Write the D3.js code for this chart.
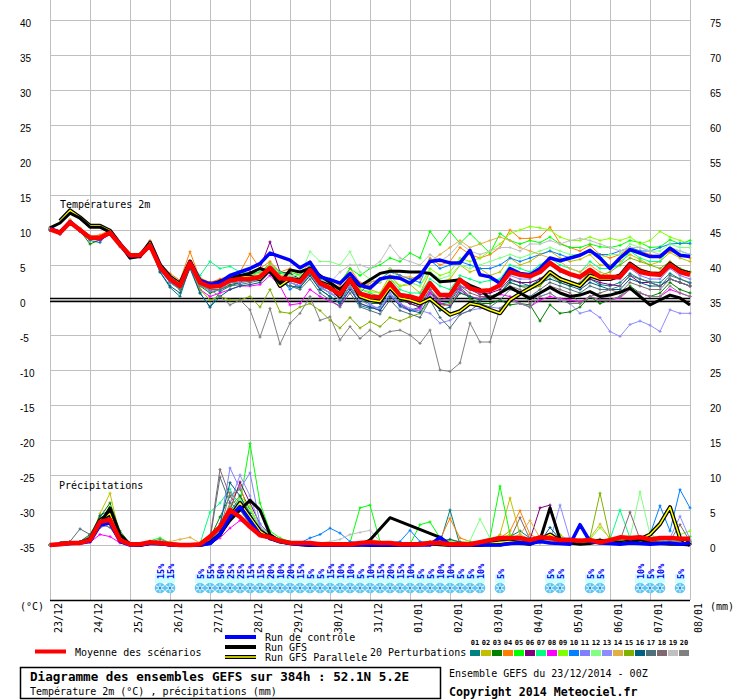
<!DOCTYPE html>
<html>
<head>
<meta charset="utf-8">
<script src="https://cdn.jsdelivr.net/npm/d3@7"></script>
<style>
body { margin: 0; background: #fff; }
svg text { font-family: "DejaVu Sans Mono", monospace; }
</style>
</head>
<body>
<div id="chart"></div>
<script>
// ---- donnees (pas de 6h, 65 echeances de 0 a 384h) ----
var days = ["23/12","24/12","25/12","26/12","27/12","28/12","29/12","30/12","31/12",
            "01/01","02/01","03/01","04/01","05/01","06/01","07/01","08/01"];
var tempTicks = [40,35,30,25,20,15,10,5,0,-5,-10,-15,-20,-25,-30,-35];
var precipTicks = [75,70,65,60,55,50,45,40,35,30,25,20,15,10,5,0];

var memberNames = ["01","02","03","04","05","06","07","08","09","10",
                   "11","12","13","14","15","16","17","18","19","20"];
var memberColors = ["#008080","#c0c000","#008000","#ff8000","#00ff00","#800080","#00ff80","#ff00ff","#80ff00","#0080ff",
                    "#8080ff","#80ff80","#8c8cff","#e0b040","#80b000","#006080","#507078","#806870","#c0c0c0","#808080"];

// temperature 2m (degC)
var tempMean = [10.1,9.6,11.1,10.0,8.9,8.9,9.6,7.9,6.4,6.4, 7.8,4.7,3.0,2.0,5.3,2.5,1.9,2.0,2.8,3.0,
  3.0,3.3,4.6,3.1,3.0,2.6,4.3,2.4,1.7,0.8, 2.9,0.9,0.5,0.4,2.4,0.7,0.5,0.1,2.4,0.7,
  0.7,2.9,1.7,1.3,1.4,2.1,4.0,3.6,3.4,4.0, 5.3,4.3,3.7,3.3,4.3,3.3,3.3,3.3,5.0,4.0, 3.7,3.6,5.0,4.0,3.6];
var tempControl = [10.2,9.7,11.2,10.0,8.9,8.8,9.6,7.9,6.3,6.4, 7.9,4.8,3.1,2.0,5.4,2.8,2.2,2.5,3.5,4.0,
  4.5,5.2,6.7,6.2,5.7,4.6,5.4,3.3,2.9,2.4, 3.8,2.1,1.7,3.0,3.3,3.1,2.4,3.5,5.5,5.7,
  5.3,5.3,7.1,3.6,3.3,2.4,4.5,3.8,3.6,4.5, 6.0,5.6,6.0,6.4,7.1,6.0,4.5,6.0,7.2,6.7, 6.2,6.2,7.4,6.4,6.2];
var tempGfs = [10.3,11.0,12.4,11.7,10.4,10.4,9.7,7.9,6.0,6.2, 8.0,4.8,3.0,2.0,5.5,2.5,2.0,2.5,3.0,3.5,
  3.8,4.5,4.0,2.4,4.3,4.0,4.5,3.5,2.5,1.5, 3.0,2.0,2.9,3.8,4.1,4.1,4.0,4.0,3.8,2.6,
  2.7,2.9,2.1,1.5,0.2,1.0,1.8,1.0,0.2,1.0, 1.8,1.0,0.5,0.7,1.2,0.5,0.7,1.1,1.7,0.5, -0.7,0.0,0.7,0.3,-0.7];
var tempPara = [null,11.3,12.8,11.8,10.6,10.6,9.9,8.0,6.3,6.3, 8.2,5.0,3.3,2.3,5.5,2.6,2.0,2.6,3.2,3.4,
  3.3,3.0,4.5,2.0,3.0,2.8,4.5,2.5,2.0,0.5, 3.0,0.5,0.0,-0.2,1.8,0.3,0.0,-0.5,0.2,-1.0,
  -2.1,-1.6,-0.5,-0.8,-1.4,-1.9,0.0,0.9,1.7,2.5, 4.0,3.0,2.5,2.0,3.5,3.0,3.0,3.5,5.2,4.2, 3.8,3.7,5.2,4.2,3.8];

var tempP01 = [10.3,9.4,11.3,9.8,8.5,8.2,9.9,7.6,6.0,6.5, 8.0,4.0,1.8,0.5,4.8,1.0,-1.0,1.2,2.0,2.5, 3.5,2.8,4.0,2.5,2.0,1.8,3.5,1.5,0.5,-0.5, 2.0,-0.8,-1.2,-1.0,1.5,-0.5,-1.5,-1.0,1.0,-0.6, -0.3,1.8,0.5,0.0,0.2,1.0,2.8,2.5,2.0,3.0, 4.0,3.2,2.5,2.0,3.0,2.2,2.0,2.5,3.8,3.0, 2.6,2.5,3.8,3.0,2.4];
var tempP02 = [10.0,9.8,11.0,10.3,9.2,9.0,9.4,8.0,6.5,6.3, 7.6,5.2,3.5,2.5,5.5,3.2,2.5,2.5,3.0,3.5, 3.2,3.6,5.0,3.5,3.8,3.0,4.8,3.0,2.5,1.5, 3.5,1.8,1.5,1.0,3.5,2.0,2.2,1.0,4.0,2.5, 3.0,5.0,4.0,4.5,3.5,4.0,6.0,5.0,5.5,6.5, 7.0,6.0,5.5,5.8,6.5,5.0,5.0,5.5,6.5,5.8, 5.0,5.5,6.8,6.0,5.5];
var tempP03 = [10.2,9.5,11.2,9.9,8.0,8.6,9.7,7.8,6.3,6.2, 7.9,4.5,2.5,1.5,5.0,2.0,1.0,1.5,2.2,2.5, 2.7,3.0,4.2,2.8,2.5,2.0,3.8,1.8,1.0,0.0, 2.0,0.0,-0.5,-0.5,1.5,0.0,-0.5,-1.0,1.5,-0.5, -0.8,1.5,0.2,-0.5,-0.5,0.0,-0.7,-0.5,-0.7,-3.0, -0.7,-1.9,-1.7,-1.0,0.5,-0.5,0.0,0.5,2.0,1.0, 0.5,1.0,2.5,1.5,1.0];
var tempP04 = [10.4,9.8,11.5,10.2,9.0,9.3,10.0,8.2,6.6,6.6, 8.5,5.2,3.8,2.8,6.9,3.0,2.5,3.0,3.5,4.0, 6.6,4.5,5.5,4.0,4.5,3.5,5.5,3.5,3.0,2.0, 4.5,2.5,2.0,2.5,4.5,3.5,3.0,3.5,6.0,5.0, 5.5,7.5,6.5,6.0,6.5,7.5,10.0,8.8,8.8,9.0, 10.4,8.1,7.5,7.0,7.8,6.5,6.0,6.5,7.5,7.0, 6.5,6.0,7.0,6.5,6.0];
var tempP05 = [10.0,9.5,11.0,10.1,9.1,9.0,9.5,8.0,6.5,6.6, 7.7,4.8,3.3,2.3,5.5,2.8,2.2,2.5,3.4,3.5, 3.6,4.0,5.2,3.8,4.0,3.5,5.0,3.5,3.0,2.5, 4.5,3.5,4.5,5.0,6.0,5.5,6.7,6.0,9.8,7.9, 9.8,8.1,9.5,8.1,6.7,9.5,8.5,8.0,8.5,8.2, 9.0,8.0,7.5,7.5,8.0,7.6,7.5,7.8,8.5,8.2, 7.5,7.6,8.6,8.0,8.5];
var tempP06 = [10.1,9.7,11.0,10.0,8.8,8.8,9.5,7.8,6.4,6.4, 7.8,4.6,2.8,1.8,5.2,3.0,2.5,2.8,3.2,3.5, 4.0,4.5,8.3,4.0,3.8,3.0,4.5,2.0,1.5,0.5, 2.5,0.5,0.0,-0.5,1.5,0.2,-0.5,-1.0,1.0,0.0, 0.5,2.0,1.5,0.8,1.0,1.5,3.0,2.5,2.5,3.0, 4.0,3.0,2.5,2.0,3.0,2.5,2.2,2.0,3.5,2.5, 2.5,2.0,3.0,2.5,2.0];
var tempP07 = [10.2,9.6,11.2,10.1,9.0,9.0,9.8,8.0,6.5,6.5, 7.8,4.9,3.2,2.2,5.5,3.5,5.5,4.5,4.8,4.0, 3.8,4.0,5.0,4.0,3.5,3.0,5.0,3.0,2.0,1.0, 3.0,1.5,1.0,0.5,3.0,1.5,1.0,1.0,3.0,2.0, 1.5,3.5,3.0,2.5,2.8,3.0,5.0,4.5,4.0,5.0, 6.0,5.0,4.5,4.0,5.5,4.5,4.5,5.0,7.0,6.0, 5.5,5.5,7.5,7.0,6.5];
var tempP08 = [10.0,9.4,11.0,9.8,8.7,8.5,9.4,7.7,6.2,6.1, 7.5,4.5,2.7,1.7,5.0,1.5,0.5,1.0,1.5,2.0, 2.0,2.2,3.5,2.0,-0.7,-0.5,1.5,0.5,-0.2,-0.8, 1.5,-0.5,-1.0,-1.5,0.5,-0.5,-1.5,-1.2,1.0,-0.5, -0.8,1.5,0.5,0.2,0.5,0.8,0.5,-0.5,-1.0,0.0, 0.5,0.2,0.0,-0.3,0.5,0.0,0.0,0.3,1.5,1.0, 0.5,0.5,1.5,1.0,0.5];
var tempP09 = [10.1,9.6,11.1,10.0,8.9,9.0,9.6,7.9,6.4,6.3, 7.8,4.6,2.9,1.9,5.3,2.5,1.8,2.0,2.7,3.0, 3.0,3.2,4.5,3.0,3.0,2.5,4.2,2.5,2.0,1.2, 3.5,1.5,1.2,1.0,3.0,2.0,2.5,2.0,4.5,3.5, 4.0,6.0,5.5,6.0,7.0,8.0,9.5,10.0,10.5,10.3, 10.0,9.0,8.5,8.5,9.0,8.5,8.8,8.5,9.0,8.0, 8.5,9.8,9.0,8.5,8.0];
var tempP10 = [10.2,9.7,11.2,10.0,8.8,8.9,9.6,7.9,6.3,6.4, 7.8,4.7,3.0,2.0,5.2,2.5,2.0,2.2,3.0,3.2, 3.3,3.5,4.8,3.2,1.5,2.5,4.0,2.0,1.5,0.5, 2.5,1.0,2.5,3.0,4.0,3.5,3.0,2.5,5.7,4.5, 5.0,5.5,5.0,4.5,4.5,5.0,6.0,5.5,6.0,6.5, 7.0,6.5,6.0,6.5,7.0,6.5,6.5,7.0,7.5,7.0, 7.0,7.5,8.0,8.1,8.1];
var tempP11 = [10.0,9.5,11.0,9.9,8.9,8.8,9.5,7.8,6.2,6.3, 7.6,4.2,2.5,1.5,5.0,2.2,1.2,1.5,2.5,2.5, 2.8,3.0,4.2,2.5,2.5,2.0,5.5,2.0,1.0,0.5, 2.5,0.5,-0.5,-1.5,1.0,-1.0,-1.5,-1.5,1.5,0.0, 0.0,2.0,1.5,1.0,1.5,2.0,3.5,3.0,3.0,4.0, 5.0,4.0,3.5,3.0,4.0,3.0,3.0,3.0,4.5,3.5, 3.0,3.0,4.5,3.5,3.0];
var tempP12 = [10.1,9.6,11.2,10.1,9.0,9.0,9.7,8.0,6.5,6.5, 7.9,4.8,3.1,2.1,5.4,2.6,2.0,2.2,3.0,3.2, 3.3,3.6,4.9,3.5,3.5,3.5,6.9,5.5,5.5,5.0, 6.9,4.0,3.0,2.5,4.5,3.0,2.5,2.0,4.0,3.0, 3.5,5.0,4.5,5.0,5.5,6.0,6.5,6.0,6.5,7.0, 7.5,7.0,6.5,6.5,7.0,6.0,6.5,6.5,8.0,7.5, 7.0,7.0,8.0,7.5,7.5];
var tempP13 = [10.0,9.6,11.0,10.0,8.8,8.8,9.5,7.8,6.3,6.3, 7.7,4.6,2.9,1.9,5.1,2.4,1.8,1.8,2.6,2.8, 2.8,3.0,4.3,2.8,2.5,2.0,3.8,1.8,1.0,0.0, 2.0,0.0,-0.8,-1.2,1.0,-0.5,-1.2,-1.5,-1.9,-3.3, -2.9,-2.0,-1.5,-1.2,-1.0,-1.2,0.0,-0.5,-1.0,0.5, 1.0,0.0,-0.5,-1.9,-1.5,-2.5,-4.5,-5.2,-3.5,-3.0, -3.6,-4.5,-1.4,-1.9,-1.9];
var tempP14 = [10.3,9.9,11.4,10.2,9.1,9.1,9.8,8.1,6.6,6.6, 8.2,5.0,3.3,2.3,5.6,2.8,2.2,2.4,3.2,3.4, 3.5,3.8,5.1,3.5,3.2,2.8,4.5,2.6,2.0,1.5, 3.5,2.0,2.5,3.0,3.5,3.3,3.3,3.0,5.5,6.5, 7.5,8.5,7.5,8.0,8.5,9.0,8.5,7.5,7.0,6.5, 6.0,5.5,4.5,4.0,5.0,4.0,3.5,3.5,5.0,4.5, 4.0,4.0,5.0,4.5,4.0];
var tempP15 = [10.1,9.5,11.1,10.0,8.8,8.9,9.6,7.9,6.4,6.4, 7.8,4.6,2.8,1.5,5.0,1.5,0.0,0.5,0.0,0.0, 0.5,-1.0,1.5,-1.7,-1.9,-1.0,-0.5,-1.5,-2.9,-4.0, -2.5,-4.0,-3.1,-3.8,-2.5,-3.0,-2.4,-1.9,0.0,-1.0, -0.5,1.0,0.5,0.0,0.5,1.0,2.5,2.0,1.5,2.0, 3.5,2.5,2.0,2.5,4.0,3.5,4.0,5.0,6.0,5.5, 5.0,4.5,5.5,4.5,4.0];
var tempP16 = [10.2,9.6,11.0,10.0,8.7,8.6,9.5,7.8,6.2,6.2, 7.6,4.0,2.0,1.0,4.5,1.0,-1.0,0.5,1.5,2.0, 2.2,2.5,4.0,2.5,2.0,1.8,3.5,1.5,0.5,-0.5, 1.5,-0.5,-1.0,-1.5,0.5,-0.8,-1.5,-1.8,0.5,-1.5, -1.0,1.0,0.5,0.0,0.5,1.0,2.5,2.0,2.0,2.5, 3.0,2.5,2.0,1.5,2.5,2.0,1.5,1.5,3.0,2.5, 2.0,2.0,3.0,2.5,2.0];
var tempP17 = [10.0,9.5,11.0,9.9,8.8,8.8,9.5,7.8,6.3,6.3, 7.7,4.4,2.6,1.6,5.0,2.2,1.5,1.5,2.0,2.2, 2.5,2.8,4.0,2.5,2.0,1.5,3.0,1.0,0.0,-1.0, 1.0,-1.0,-1.5,-2.0,0.0,-1.5,-2.0,-2.5,0.0,-2.5, -4.0,-2.1,-1.5,-0.5,-1.0,0.0,1.5,1.0,0.5,1.5, 2.5,2.0,1.5,1.0,2.0,1.5,1.5,2.0,3.5,3.0, 2.5,2.0,3.5,3.0,2.5];
var tempP18 = [10.1,9.6,11.0,10.0,8.9,8.9,9.6,7.9,6.4,6.4, 7.8,4.7,3.0,2.0,5.2,2.5,1.8,2.0,2.8,3.0, 3.0,3.2,4.5,3.0,2.8,2.5,4.0,2.2,1.5,0.5, 2.5,0.5,0.0,0.0,2.0,0.5,0.0,-0.5,1.5,0.0, 0.0,2.0,1.0,0.5,0.5,1.0,2.0,1.5,-0.5,1.0, 2.0,1.5,1.0,-0.5,0.5,1.0,1.5,1.0,2.5,2.0, 1.5,1.5,3.0,2.5,2.0];
var tempP19 = [10.2,9.7,11.2,10.1,9.0,9.0,9.7,8.0,6.5,6.5, 7.9,4.8,3.1,2.1,5.4,2.6,2.0,2.2,3.0,3.2, 3.2,3.5,4.8,3.3,3.2,2.8,4.5,2.8,2.5,4.0, 5.0,5.0,4.5,5.5,7.8,6.0,5.5,5.0,6.5,5.5, 6.5,8.1,7.0,6.5,7.0,7.5,7.5,7.0,8.0,8.0, 8.5,8.0,8.5,8.8,8.5,8.0,7.5,7.0,7.5,7.5, 7.0,6.5,7.5,7.0,6.5];
var tempP20 = [10.0,9.4,10.9,9.9,8.7,8.7,9.4,7.8,6.3,6.2, 7.6,4.5,2.8,1.8,5.0,2.0,1.5,0.5,-0.7,0.0, -1.4,-5.3,-1.2,-6.3,-3.3,-1.9,0.5,-2.9,-2.4,-5.7, -3.8,-5.5,-4.3,-5.2,-4.5,-4.3,-5.0,-6.2,-4.3,-10.0, -10.2,-9.0,-3.3,-6.0,-6.0,-1.2,0.0,-0.5,-1.0,0.5, 1.0,0.0,-0.5,-0.5,0.5,0.0,0.0,0.5,1.5,1.0, 0.5,0.5,2.0,1.0,0.5];

// precipitations (mm)
var precMean = [0,0.1,0.3,0.3,0.7,3.3,3.6,0.7,0.1,0.1, 0.4,0.3,0.1,0,0,0.1,1.2,2.6,5.0,4.0,
  2.6,1.4,1.1,0.6,0.3,0.3,0.3,0.1,0.1,0.1, 0.1,0.3,0.4,0.3,0.3,0.1,0.1,0.1,0.3,0.3,
  0.1,0.1,0.1,0.4,0.7,1.0,1.0,1.0,0.7,1.1, 1.0,0.7,0.7,0.6,0.7,0.4,0.7,1.1,1.0,1.1, 0.8,1.0,1.0,0.9,0.9];
var precControl = [0,0.1,0.2,0.3,0.5,2.8,3.2,0.5,0,0, 0.2,0.2,0,0,0,0,
  0.2,1.5,4.0,5.5,3.5,1.5,1.0,0.5,0.2,0.1,0,
  0,0,0,0,0,0,0,0,0,0, 0,0,1.1,0,0,0,0,0,0,0.2, 0.3,0.2,0.5,0.3,0.2,0.1,2.9,0.5,0.3,0.2, 0.1,0.3,0.2,0.1,0.2,0.3,0.1,0.3];
var precGfs = [0,0.1,0.2,0.3,0.8,3.0,5.3,1.5,0.1,0, 0.2,0.2,0,0,0,0,
  0.3,1.5,3.5,5.0,6.4,5.0,1.5,0.5,0.2,0.1,0,
  0,0,0,0,0,0.7,null,3.9,null,null, null,null,1.1,0,0,0,0,0,0,0.2, 0.3,0.1,0.7,5.3,0.8,0.3,0.1,0.2,0.5,0.3, 0.2,0.4,0.8,0.3,0.2,0.1,0.1,0];
var precPara = [null,0.2,0.3,0.3,0.8,3.5,4.5,1.0,0.1,0, 0.3,0.2,0.1,0,0,0,
  0.3,1.5,4.0,6.0,4.0,2.0,1.0,0.5,0.3,0.1,0,
  0,0,0,0.1,0.1,0,0,0,0,0, 0.1,0.2,0.1,0,0,0,0,0.2,0.4,0.5, 0.3,0.2,0.8,1.5,0.6,0.4,0.3,0.5,0.6,0.4, 0.3,0.5,0.8,1.5,3.0,5.4,1.0,0];

var precP01 = [0,0.2,0.3,0.4,1.0,3.5,4.0,0.8,0.1,0, 0.5,0.3,0.1,0,0,0,
  0.5,2.0,5.0,6.0,3.5,1.5,1.0,0.5,0.2,0.2,0.1,
  0.1,0,0,0.2,0.3,0.5,0.3,0.2,0.1,0, 0.2,0.5,0.3,5.0,0,0,0.3,0.5,0.8,1.2, 2.0,1.0,0.5,0.8,0.5,0.3,0.5,0.2,0.4,0.5, 0.3,0.6,0.4,0.5,0.3,0.4,0.2,0.3];
var precP02 = [0,0.1,0.3,0.2,0.8,4.5,7.4,1.2,0.1,0, 0.3,0.4,0.2,0,0,0,
  0.3,1.5,4.0,5.5,4.5,2.0,1.5,0.8,0.5,0.3,0.2,
  0,0,0.2,0.1,0.3,0.8,0.5,0.3,0.1,0, 0.3,0.2,0.5,0.8,0.3,0.2,0.1,0.5,1.5,6.7, 1.5,0.8,0.5,0.5,1.5,0.5,0.3,0.5,0.8,0.4, 0.5,0.3,1.0,0.6,0.4,0.3,0.5,0.2];
var precP03 = [0,0.2,0.4,0.5,1.5,4.0,6.0,2.0,0.2,0, 0.4,0.3,0.1,0,0,0,
  1.0,4.0,7.0,8.0,5.0,2.5,1.5,0.5,0.3,0.2,0.1,
  0.1,0.2,0,0,0.3,0.2,0.1,0.1,0,0, 0.2,0.3,0.2,0.1,0,0,0.2,0.3,0.5,0.8, 1.0,0.8,0.5,0.4,0.6,0.3,0.2,0.4,0.5,0.3, 0.2,0.5,0.3,0.4,0.2,0.3,0.2,0.1];
var precP04 = [0,0.1,0.3,0.3,0.6,3.0,3.5,0.6,0.1,0, 0.3,0.2,0.1,0,0,0,
  0.5,2.5,6.0,8.5,4.0,2.0,1.0,0.8,0.3,0.2,0.1,
  0,0,0.1,0.2,0.3,0.5,0.3,0.2,0,0.1, 0.3,0.5,0.8,3.8,1.0,0.5,0.3,0.5,1.0,2.0, 4.9,1.5,0.8,0.5,0.3,0.5,0.8,0.5,0.3,1.0, 0.5,0.3,0.5,1.0,0.8,0.5,0.3,0.2];
var precP05 = [0,0.2,0.3,0.4,0.8,3.0,3.0,0.5,0.1,0.1, 0.6,1.0,0.3,0,0,0,
  0.3,1.5,3.5,6.0,14.5,6.0,2.0,1.0,0.5,0.2,0.1,
  0.1,0.1,0.2,0.3,5.3,5.7,0.5,0.3,0.2,0.1, 2.9,3.3,1.0,0.5,0.3,0.2,0.5,1.0,8.4,1.5, 0.8,0.5,1.0,0.8,0.5,0.3,0.6,1.0,0.5,0.8, 0.5,0.3,0.8,1.5,0.8,0.5,0.6,1.2];
var precP06 = [0,0.1,0.2,0.3,0.5,2.5,3.0,0.5,0,0, 0.2,0.3,0.1,0,0,0,
  0.2,1.5,5.0,9.0,6.0,3.0,1.5,0.8,0.4,0.3,0.2,
  0,0.1,0.1,0.2,0.2,0.1,0.1,0,0,0, 0.1,0.2,0.3,0.2,0.1,0,0.2,0.3,0.5,0.8, 1.0,0.8,5.3,5.7,1.0,0.5,0.3,0.5,0.8,0.3, 0.5,0.6,0.3,0.2,0.5,0.3,0.2,0.1];
var precP07 = [0,0.1,0.2,0.2,0.6,2.8,3.2,0.8,0.1,0, 0.3,0.2,0.1,0,0,0.2,
  4.7,6.0,8.0,5.0,3.0,1.5,1.0,0.5,0.3,0.2,0.1,
  0.1,0,0.1,0.2,0.3,0.2,0.1,0.1,0,0, 0.2,0.3,0.2,0.1,0.1,0,0.2,0.4,0.6,0.8, 0.5,0.3,0.5,0.8,0.6,0.4,0.5,0.3,0.6,0.8, 5.0,1.0,0.5,0.3,0.5,0.6,0.4,0.3];
var precP08 = [0,0.1,0.2,0.2,0.4,1.5,1.2,0.3,0,0, 0.2,0.1,0,0,0,0,
  0.2,1.0,2.4,3.5,2.5,1.5,0.8,0.5,0.2,0.1,0.1,
  0,0,0.1,0.1,0.2,0.1,0.1,0,0,0, 0.1,0.1,0.2,0.1,0,0,0.1,0.3,0.5,0.8, 1.0,0.6,0.4,0.5,0.3,0.2,0.4,0.6,0.3,0.2, 0.4,0.5,0.3,0.2,0.3,0.4,0.2,0.1];
var precP09 = [0,0.2,0.3,0.3,0.9,3.5,5.5,1.0,0.1,0, 0.4,0.3,0.2,0,0,0,
  0.5,2.0,4.5,7.0,5.5,2.5,1.5,0.8,0.5,0.3,0.2,
  0.1,0.1,0.2,0.2,0.3,0.5,0.3,0.2,0.1,0, 0.2,0.3,0.5,0.3,0.2,0.1,0.3,0.5,1.0,1.5, 0.8,0.5,0.6,0.8,1.2,0.6,0.4,0.8,2.5,1.0, 0.6,0.5,0.8,1.0,0.6,0.5,1.5,2.0];
var precP10 = [0,0.1,0.3,0.3,0.7,3.0,3.5,0.7,0.1,0, 0.3,0.3,0.1,0,0,0,
  0.3,2.0,5.0,6.5,4.0,2.0,1.2,0.8,0.4,0.3,1.0,
  1.5,2.4,1.7,0.5,0.3,0.3,0.2,0.3,0.5,2.1, 0.5,0.3,0.2,0.1,0,0,0.2,0.3,0.5,0.8, 0.6,0.4,0.3,0.5,0.4,0.3,0.5,0.3,0.4,0.6, 0.5,0.4,0.8,1.5,5.6,2.0,7.9,5.3];
var precP11 = [0,0.1,0.2,0.3,0.6,2.5,3.0,0.8,0.1,0, 0.3,0.2,0.1,0,0,0,
  0.3,2.5,11.0,8.0,10.3,3.0,1.5,0.8,0.4,0.2,0.1,
  0,0.1,0.1,0.2,0.3,0.2,0.1,0.1,0,0, 0.2,0.3,0.2,0.1,0,0,0.2,0.4,0.6,0.8, 0.5,0.4,0.5,0.8,1.0,1.0,0.5,0.4,0.3,0.5, 0.6,0.4,0.5,0.3,0.8,0.5,0.4,0.3];
var precP12 = [0,0.2,0.3,0.3,0.8,3.2,3.8,0.9,0.1,0, 0.5,0.4,0.1,0,0,0,
  0.4,1.8,4.5,6.5,5.0,2.5,1.5,0.8,0.4,0.2,0.1,
  0.1,0,0.1,0.2,0.2,0.3,0.2,0.1,0,0, 0.1,0.2,0.3,0.5,0.4,0.6,3.7,1.0,0.6,0.5, 0.8,0.6,0.4,0.6,0.5,0.4,0.3,0.6,0.8,0.5, 0.6,1.0,7.6,1.5,0.8,0.5,0.6,0.4];
var precP13 = [0,0.1,0.3,0.3,0.7,2.8,3.0,0.6,0.1,0, 0.3,0.2,0.1,0,0,0,
  0.4,2.0,6.0,10.0,7.0,2.5,1.2,0.6,0.3,0.2,0.1,
  0,0,0.1,0.1,0.2,0.2,0.1,0,0,0, 0.1,0.2,0.2,0.1,0,0,0.1,0.3,0.5,0.6, 0.5,0.3,0.4,0.6,5.7,0.8,0.4,0.3,0.2,0.4, 0.5,0.3,0.4,0.3,0.5,1.0,4.1,0.8];
var precP14 = [0,0.1,0.2,0.3,0.6,2.6,3.0,0.6,0.1,0, 0.2,0.3,0.5,0.8,1.1,0.3,
  0.3,1.2,4.0,6.0,3.0,1.5,0.8,0.5,0.3,0.2,0.1,
  0,0.1,0.1,0.2,0.2,0.1,0.1,0,0,0, 0.2,0.3,0.5,0.8,0.5,0.3,0.2,0.4,0.6,1.0, 1.5,3.5,1.0,0.5,0.4,0.3,0.5,1.0,3.0,0.8, 0.5,0.4,0.6,0.5,0.3,0.4,0.5,0.3];
var precP15 = [0,0.2,0.3,0.4,1.0,3.8,4.5,1.0,0.1,0, 0.4,0.3,0.1,0,0,0,
  0.5,2.5,5.5,7.0,4.0,2.0,1.2,0.6,0.3,0.2,0.1,
  0.1,0.1,0.2,0.2,0.3,0.3,0.2,0.1,0,0, 0.2,0.3,0.4,0.3,0.2,0.1,0.3,0.5,0.8,1.0, 0.8,0.5,0.6,0.8,1.0,0.8,0.5,1.0,7.4,1.0, 0.6,0.5,0.8,0.6,0.5,0.4,0.6,0.5];
var precP16 = [0,0.2,0.4,0.5,1.2,4.2,5.0,1.5,0.2,0, 0.3,0.3,0.1,0,0,0,
  0.5,3.0,8.9,7.0,4.5,2.0,1.0,0.5,0.3,0.2,0.1,
  0,0.1,0.1,0.2,0.3,0.2,0.1,0.1,0,0, 0.2,0.3,0.5,0.8,0.4,0.3,0.2,0.3,0.5,0.8, 1.0,0.5,0.4,2.5,0.8,0.5,0.4,0.5,0.6,0.4, 0.5,0.3,0.5,0.6,0.4,0.3,0.4,0.2];
var precP17 = [0,0.2,0.5,2.3,1.5,3.0,2.5,0.5,0.1,0, 0.3,0.5,0.2,0,0,0,
  0.8,9.7,6.0,5.0,3.0,1.5,1.0,0.5,0.3,0.2,0.1,
  0,0.1,0.1,0.1,0.2,0.2,0.1,0,0,0, 0.1,0.2,0.3,0.2,0.1,0,0.2,0.3,0.5,0.6, 0.8,0.5,0.4,0.5,0.3,0.2,0.3,0.5,0.4,0.3, 0.4,0.3,0.5,0.4,0.3,0.5,0.3,0.2];
var precP18 = [0,0.1,0.3,0.3,0.7,3.0,3.5,0.8,0.1,0, 0.3,0.3,0.1,0,0,0,
  1.0,10.8,7.0,5.0,3.0,1.5,1.0,0.5,0.3,0.2,0.1,
  0,0,0.1,0.1,0.2,0.2,0.1,0.1,0,0, 0.1,0.2,0.3,0.2,0.1,0,0.2,0.3,0.5,0.8, 3.9,0.8,0.5,0.4,0.3,0.5,0.6,0.4,0.5,0.8, 0.6,4.7,0.8,0.5,0.4,0.6,2.9,0.5];
var precP19 = [0,0.1,0.2,0.3,0.6,2.8,3.2,0.7,0.1,0, 0.3,0.2,0.1,0,0,0,
  0.3,1.5,4.5,6.0,4.0,2.0,1.2,0.6,0.3,0.2,0.2,
  0.3,0.5,0.8,1.5,1.8,2.1,0.5,0.3,0.1,0, 0.1,0.2,0.3,0.2,0.1,0,0.2,0.3,0.5,0.6, 0.8,0.5,0.4,0.5,0.3,0.2,0.4,0.5,0.6,0.4, 0.3,0.5,0.6,0.4,0.3,0.5,0.4,0.3];
var precP20 = [0,0.3,0.4,0.5,1.2,3.5,4.0,0.6,0.1,0, 0.4,0.8,0.3,0,0,0,
  0.5,2.2,7.5,6.0,3.5,1.8,1.0,0.6,0.3,0.2,0.1,
  0,0.1,0.1,0.2,0.2,0.3,0.2,0.1,0,0, 0.1,0.2,0.2,0.1,0.1,0,0.1,0.3,0.4,0.5, 0.6,0.4,0.3,0.4,0.3,0.2,0.4,0.5,0.3,0.4, 0.5,0.3,0.4,0.5,0.3,0.4,0.5,0.6];

// risque de neige : echeance (pas de 6h) et pourcentage
var snowSteps = [11,12,15,16,17,18,19,20,21,22,23,24,25,26,27,28,29,30,31,32,33,34,35,36,37,38,39,40,41,42,43,45,50,51,54,55,59,60,61,63];
var snowPct   = [15,15,5,55,50,25,25,15,15,20,10,20,15,5,5,15,10,10,5,10,15,20,15,10,5,5,10,10,5,5,10,5,5,5,5,5,10,5,10,5];

var tempMembers = [tempP01,tempP02,tempP03,tempP04,tempP05,tempP06,tempP07,tempP08,tempP09,tempP10,
                   tempP11,tempP12,tempP13,tempP14,tempP15,tempP16,tempP17,tempP18,tempP19,tempP20];
var precMembers = [precP01,precP02,precP03,precP04,precP05,precP06,precP07,precP08,precP09,precP10,
                   precP11,precP12,precP13,precP14,precP15,precP16,precP17,precP18,precP19,precP20];

// ---- dessin ----
var width = 740, height = 700;
var stepH = 6;

var svg = d3.select("#chart").append("svg")
  .attr("width", width)
  .attr("height", height);

svg.append("rect").attr("width", width).attr("height", height).attr("fill", "#fff");

var x = d3.scaleLinear().domain([0, 384]).range([50, 690]);
var yT = d3.scaleLinear().domain([-35, 40]).range([545, 20]);   // temperature (gauche)
var yP = d3.scaleLinear().domain([0, 75]).range([545, 20]);     // precipitations (droite)

// grille
var grid = svg.append("g").attr("stroke", "#c0c0c0").attr("stroke-width", 1).attr("shape-rendering", "crispEdges");
grid.selectAll(".vg").data(days).enter().append("line")
  .attr("x1", function(d, i) { return x(i * 24) + 0.5; })
  .attr("x2", function(d, i) { return x(i * 24) + 0.5; })
  .attr("y1", 0).attr("y2", 600);
grid.selectAll(".hg").data(tempTicks).enter().append("line")
  .attr("x1", x(0)).attr("x2", x(384))
  .attr("y1", function(d) { return yT(d) + 0.5; })
  .attr("y2", function(d) { return yT(d) + 0.5; });

// libelles axes
svg.selectAll(".tl").data(tempTicks).enter().append("text")
  .attr("x", 20).attr("y", function(d) { return yT(d) + 6.5; })
  .style("font-family", "Liberation Sans, sans-serif")
  .attr("font-size", "10px").text(function(d) { return d; });
svg.selectAll(".pl").data(precipTicks).enter().append("text")
  .attr("x", 710).attr("y", function(d) { return yP(d) + 6.5; })
  .style("font-family", "Liberation Sans, sans-serif")
  .attr("font-size", "10px").text(function(d) { return d; });

// axe des dates
svg.append("line").attr("x1", x(0)).attr("x2", x(384)).attr("y1", 600.5).attr("y2", 600.5)
  .attr("stroke", "#000").attr("stroke-width", 1.5);
svg.selectAll(".dl").data(days).enter().append("text")
  .attr("transform", function(d, i) { return "translate(" + (x(i * 24) + 11.5) + ",603) rotate(-90)"; })
  .attr("text-anchor", "end").attr("font-size", "10px").text(function(d) { return d; });
svg.append("text").attr("x", 20).attr("y", 610).attr("font-size", "10px").text("(°C)");
svg.append("text").attr("x", 710).attr("y", 610).attr("font-size", "10px").text("(mm)");

// ligne 0 degC (double trait)
[-1.5, 1.5].forEach(function(off) {
  svg.append("line").attr("x1", x(0)).attr("x2", x(384))
    .attr("y1", yT(0) + off).attr("y2", yT(0) + off)
    .attr("stroke", "#000").attr("stroke-width", 1.3);
});

svg.append("text").attr("x", 60).attr("y", 208).attr("font-size", "10px").text("Températures 2m");
svg.append("text").attr("x", 59).attr("y", 489).attr("font-size", "10px").text("Précipitations");

// generateurs de lignes
function toPoints(arr) {
  return arr.map(function(v, i) { return {h: i * stepH, v: v}; })
            .filter(function(d) { return d.v !== null; });
}
var lineT = d3.line().x(function(d) { return x(d.h); }).y(function(d) { return yT(d.v); });
var lineP = d3.line().x(function(d) { return x(d.h); }).y(function(d) { return yP(d.v); });

// membres (perturbations)
function drawMember(arr, color, lineGen, yScale) {
  var pts = toPoints(arr);
  var g = svg.append("g");
  g.append("path").datum(pts).attr("d", lineGen)
    .attr("fill", "none").attr("stroke", color).attr("stroke-width", 1);
  g.selectAll("path.mk").data(pts).enter().append("path")
    .attr("class", "mk")
    .attr("d", function(d) { var px = x(d.h), py = yScale(d.v);
      return "M" + (px - 1.5) + "," + py + "H" + (px + 1.5) + "M" + px + "," + (py - 1.5) + "V" + (py + 1.5); })
    .attr("stroke", color).attr("stroke-width", 1);
}
tempMembers.forEach(function(arr, i) { drawMember(arr, memberColors[i], lineT, yT); });
precMembers.forEach(function(arr, i) { drawMember(arr, memberColors[i], lineP, yP); });

// runs deterministes et moyenne
function drawRun(arr, lineGen, color, w) {
  svg.append("path").datum(toPoints(arr)).attr("d", lineGen)
    .attr("fill", "none").attr("stroke", color).attr("stroke-width", w)
    .attr("stroke-linejoin", "round");
}
drawRun(tempPara, lineT, "#000", 4); drawRun(tempPara, lineT, "#ffff00", 1.5);
drawRun(precPara, lineP, "#000", 4); drawRun(precPara, lineP, "#ffff00", 1.5);
drawRun(tempGfs, lineT, "#000", 3);
drawRun(precGfs, lineP, "#000", 3);
drawRun(tempControl, lineT, "#0000ff", 3.5);
drawRun(precControl, lineP, "#0000ff", 3.5);
drawRun(tempMean, lineT, "#ff0000", 4.5);
drawRun(precMean, lineP, "#ff0000", 4.5);

// risque de neige
var snow = svg.selectAll(".snow").data(snowSteps).enter().append("g")
  .attr("transform", function(d) { return "translate(" + x(d * stepH) + ",0)"; });
snow.append("rect").attr("x", -5).attr("y", 574).attr("width", 10).attr("height", 9).attr("fill", "#ccffff");
snow.append("circle").attr("cx", 0).attr("cy", 588).attr("r", 5.3).attr("fill", "#5cc4ee");
[0, 60, 120].forEach(function(a) {
  snow.append("line").attr("x1", 0).attr("y1", 583.5).attr("x2", 0).attr("y2", 592.5)
    .attr("transform", "rotate(" + a + ",0,588)")
    .attr("stroke", "#e8f8ff").attr("stroke-width", 1);
});
snow.append("circle").attr("cx", 0).attr("cy", 588).attr("r", 1.2).attr("fill", "#3a80d0");
snow.append("text")
  .attr("transform", "translate(3.5,579) rotate(-90)")
  .attr("font-size", "8.5px").attr("font-weight", "bold").attr("fill", "#0000ff")
  .text(function(d, i) { return snowPct[i] + "%"; });

// legende
svg.append("line").attr("x1", 35).attr("x2", 66).attr("y1", 651.5).attr("y2", 651.5).attr("stroke", "#ff0000").attr("stroke-width", 4);
svg.append("text").attr("x", 75).attr("y", 656).attr("font-size", "10px").text("Moyenne des scénarios");

svg.append("line").attr("x1", 225).attr("x2", 256).attr("y1", 637).attr("y2", 637).attr("stroke", "#0000ff").attr("stroke-width", 4);
svg.append("line").attr("x1", 225).attr("x2", 256).attr("y1", 647).attr("y2", 647).attr("stroke", "#000").attr("stroke-width", 4);
svg.append("line").attr("x1", 225).attr("x2", 256).attr("y1", 657).attr("y2", 657).attr("stroke", "#000").attr("stroke-width", 4);
svg.append("line").attr("x1", 225).attr("x2", 256).attr("y1", 657).attr("y2", 657).attr("stroke", "#ffff00").attr("stroke-width", 1.5);
svg.append("text").attr("x", 265).attr("y", 641).attr("font-size", "10px").text("Run de contrôle");
svg.append("text").attr("x", 265).attr("y", 651).attr("font-size", "10px").text("Run GFS");
svg.append("text").attr("x", 265).attr("y", 661).attr("font-size", "10px").text("Run GFS Parallele");

svg.append("text").attr("x", 370).attr("y", 656).attr("font-size", "10px").text("20 Perturbations");
var sw = svg.selectAll(".sw").data(memberNames).enter().append("g")
  .attr("transform", function(d, i) { return "translate(" + (470 + i * 11) + ",0)"; });
sw.append("rect").attr("x", 0).attr("y", 650).attr("width", 10).attr("height", 6)
  .attr("fill", function(d, i) { return memberColors[i]; });
sw.append("text").attr("x", 5).attr("y", 645).attr("text-anchor", "middle")
  .attr("font-size", "7px").attr("font-weight", "bold").text(function(d) { return d; });

// cartouche
svg.append("rect").attr("x", 20.5).attr("y", 667.5).attr("width", 420).attr("height", 31)
  .attr("fill", "none").attr("stroke", "#000").attr("stroke-width", 1.5);
svg.append("text").attr("x", 30).attr("y", 681).attr("font-size", "12.6px").attr("font-weight", "bold")
  .text("Diagramme des ensembles GEFS sur 384h : 52.1N 5.2E");
svg.append("text").attr("x", 30).attr("y", 695).attr("font-size", "10px")
  .text("Température 2m (°C) , précipitations (mm)");
svg.append("text").attr("x", 449).attr("y", 677).attr("font-size", "10px")
  .text("Ensemble GEFS du 23/12/2014 - 00Z");
svg.append("text").attr("x", 449).attr("y", 696).attr("font-size", "11.6px").attr("font-weight", "bold")
  .text("Copyright 2014 Meteociel.fr");
</script>
</body>
</html>
